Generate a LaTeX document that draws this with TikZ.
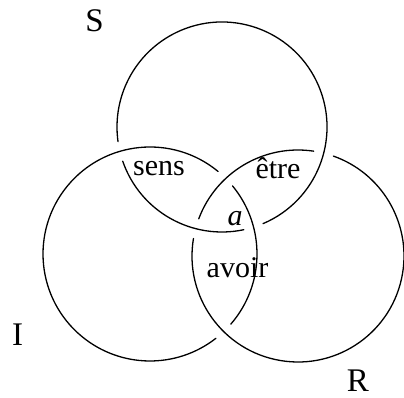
\documentclass[tikz,border=0pt]{standalone}
\usepackage{fontspec}
\setmainfont{Liberation Serif}
\usetikzlibrary{calc}

\begin{document}
\begin{tikzpicture}[x=1pt, y=1pt,
    ring/.style={line width=1.3pt, line cap=round},
    word/.style={font=\fontsize{30}{36}\selectfont, inner sep=0pt},
    letter/.style={font=\fontsize{33}{40}\selectfont, inner sep=0pt}]
  \useasboundingbox (0,0) rectangle (404,398);
  % centres des trois cercles
  \coordinate (S) at (222,271);
  \coordinate (I) at (150,144);
  \coordinate (R) at (298,142);
  % cercle S (coupé là où I passe dessus)
  \draw[ring] ([shift={(199:105)}]S) arc[start angle=199, end angle=282, radius=105];
  \draw[ring] ([shift={(293:105)}]S) arc[start angle=293, end angle=548, radius=105];
  % cercle I (coupé là où R passe dessus)
  \draw[ring] ([shift={(50.5:107)}]I) arc[start angle=50.5, end angle=308, radius=107];
  \draw[ring] ([shift={(319:107)}]I) arc[start angle=319, end angle=399.5, radius=107];
  % cercle R (coupé là où S passe dessus)
  \draw[ring] ([shift={(81.5:106)}]R) arc[start angle=81.5, end angle=159.5, radius=106];
  \draw[ring] ([shift={(170.5:106)}]R) arc[start angle=170.5, end angle=430.5, radius=106];
  % lettres
  \node[letter] (nS) at (94.5,377) {S};
  \node[letter] (nI) at (17.5,63.5) {I};
  \node[letter] (nR) at (358,17) {R};
  % mots dans les intersections
  \node[word] (sens) at (159,229) {sens};
  \node[word] (etre) at (278,230) {être};
  \node[word] (a) at (235,179.5) {\itshape a};
  \node[word] (avoir) at (237.5,130) {avoir};
\end{tikzpicture}
\end{document}
